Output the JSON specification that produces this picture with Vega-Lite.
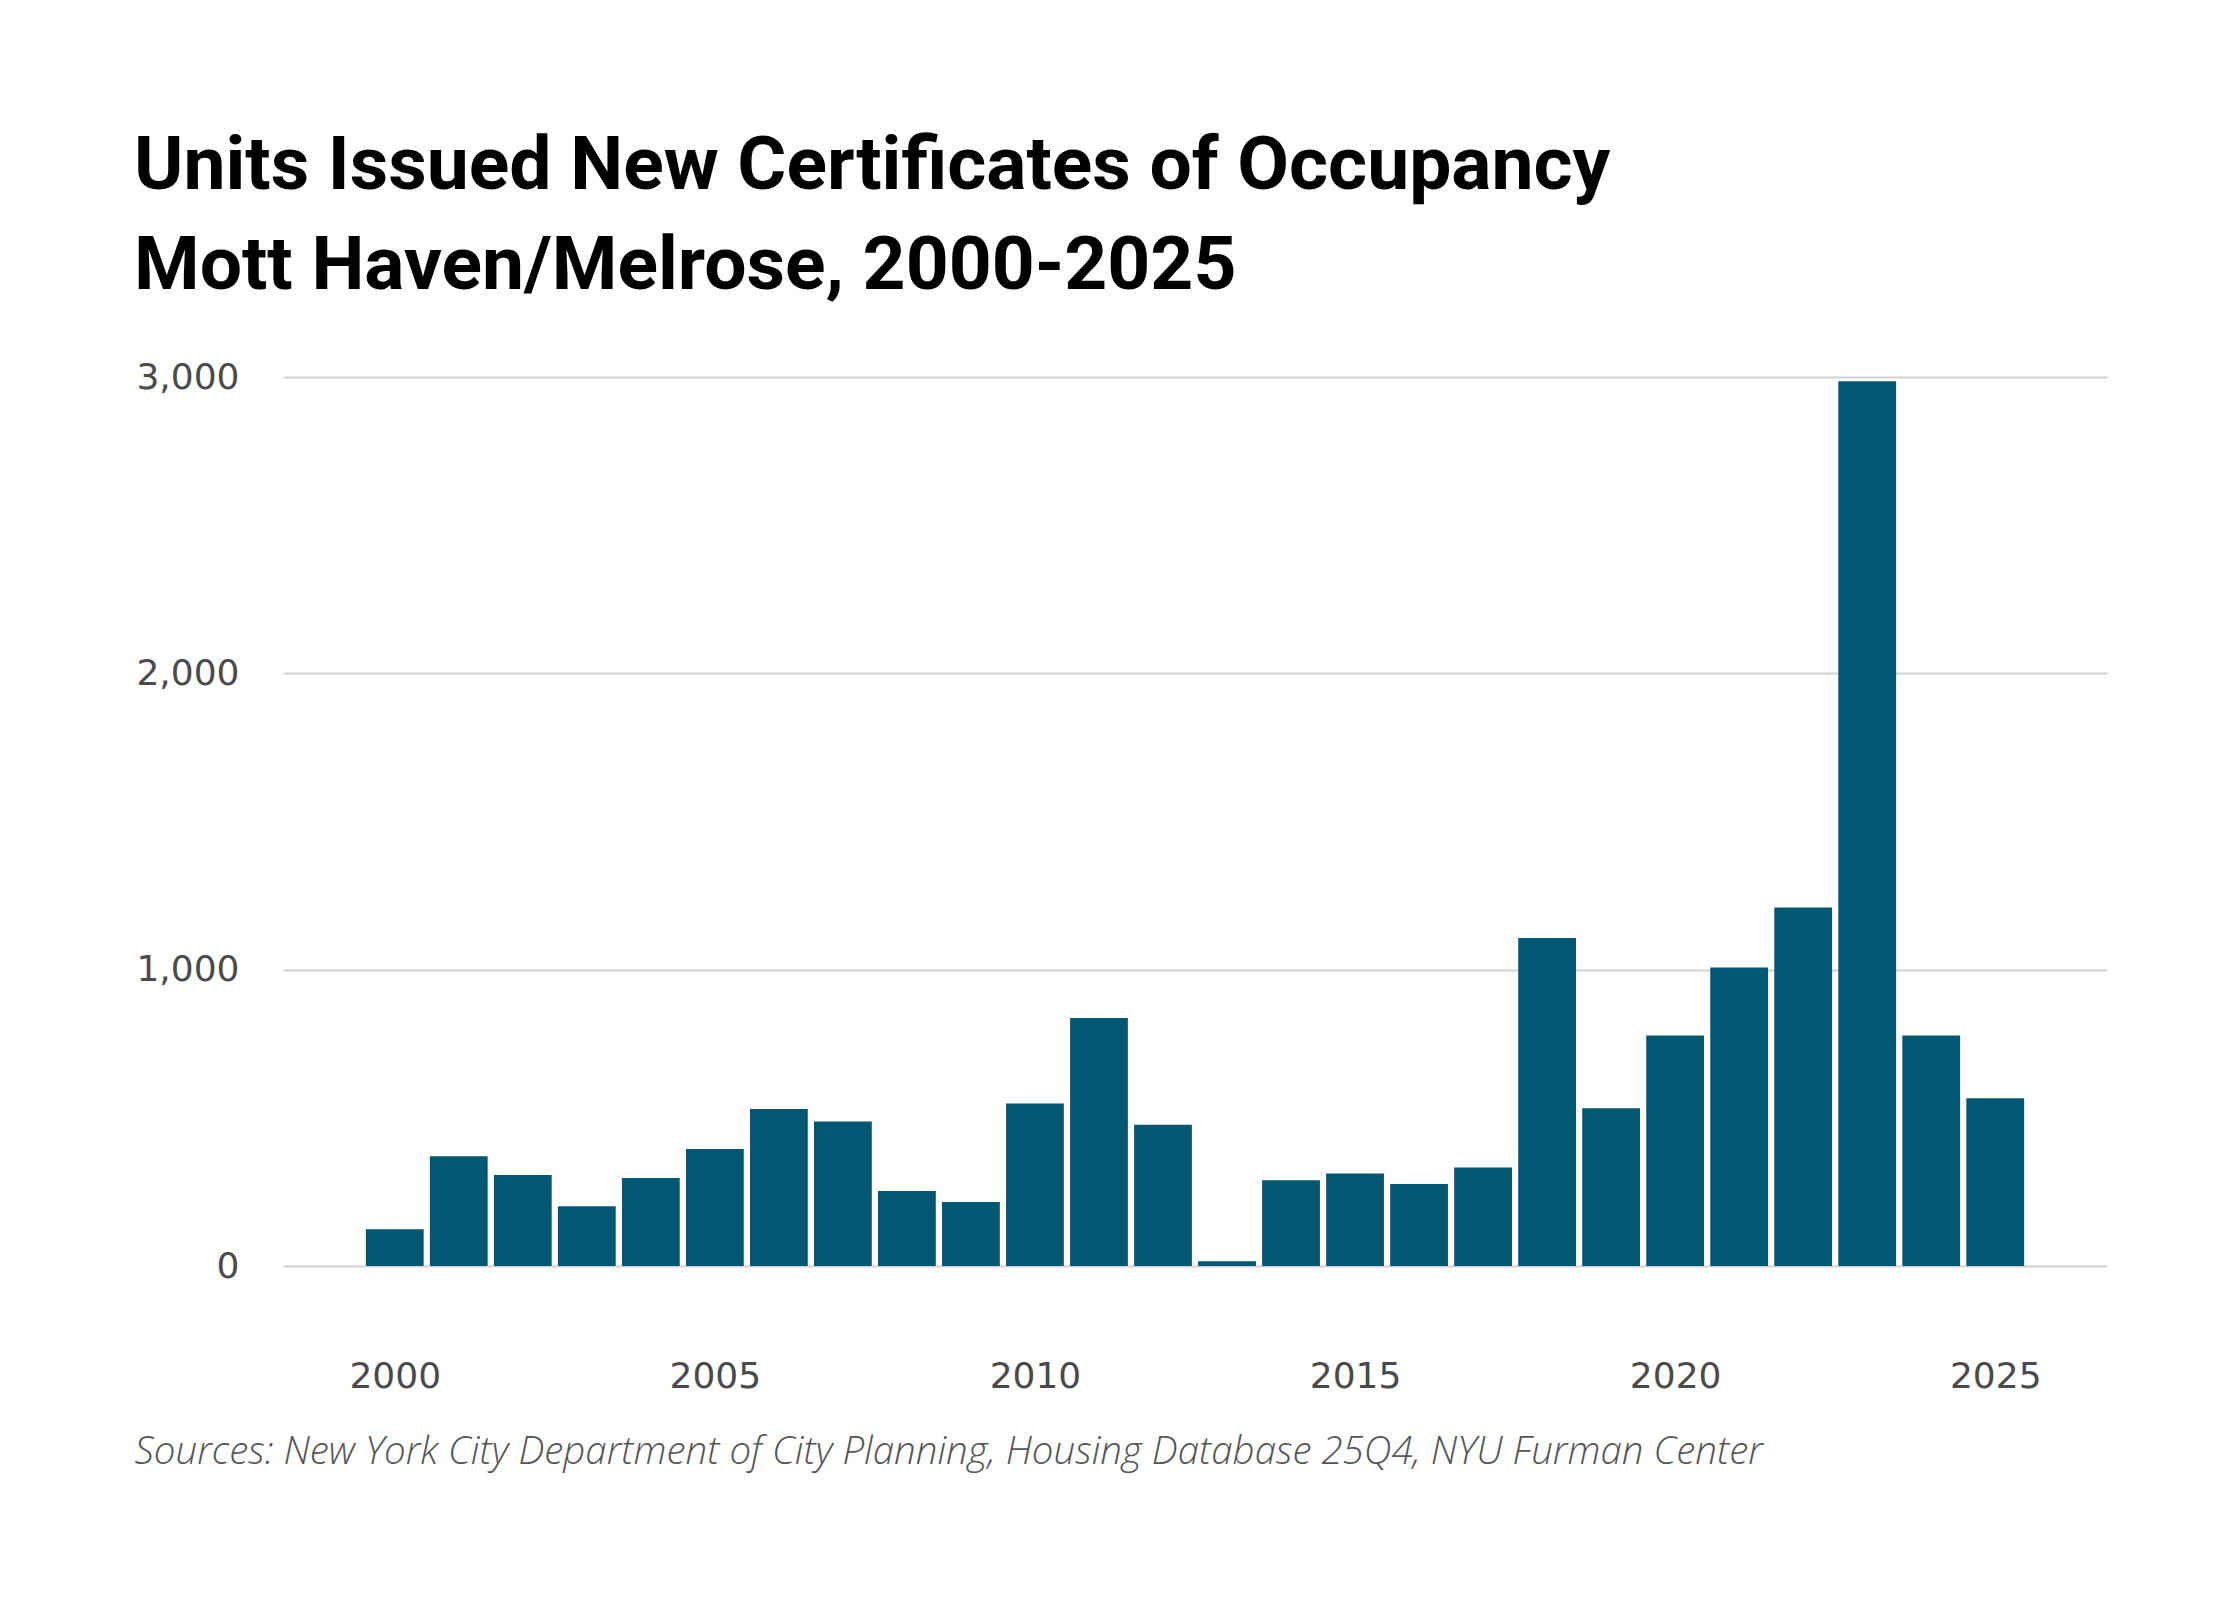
{
  "$schema": "https://vega.github.io/schema/vega-lite/v6.json",
  "width": 1824,
  "height": 889,
  "autosize": {"type": "none"},
  "padding": {"left": 283, "top": 377, "right": 133, "bottom": 334},
  "background": "white",
  "title": {
    "text": ["Units Issued New Certificates of Occupancy", "Mott Haven/Melrose, 2000-2025"],
    "anchor": "start",
    "frame": "group",
    "dx": -149,
    "font": "Roboto",
    "fontWeight": "bold",
    "fontSize": 75,
    "lineHeight": 100,
    "color": "#000000",
    "offset": 54
  },
  "data": {
    "values": [
      {"year": 2000, "units": 124},
      {"year": 2001, "units": 370},
      {"year": 2002, "units": 307},
      {"year": 2003, "units": 202},
      {"year": 2004, "units": 297},
      {"year": 2005, "units": 395},
      {"year": 2006, "units": 530},
      {"year": 2007, "units": 488},
      {"year": 2008, "units": 253},
      {"year": 2009, "units": 216},
      {"year": 2010, "units": 548},
      {"year": 2011, "units": 837},
      {"year": 2012, "units": 477},
      {"year": 2013, "units": 16},
      {"year": 2014, "units": 289},
      {"year": 2015, "units": 312},
      {"year": 2016, "units": 277},
      {"year": 2017, "units": 332},
      {"year": 2018, "units": 1107},
      {"year": 2019, "units": 532},
      {"year": 2020, "units": 778},
      {"year": 2021, "units": 1007},
      {"year": 2022, "units": 1210},
      {"year": 2023, "units": 2986},
      {"year": 2024, "units": 778},
      {"year": 2025, "units": 566}
    ]
  },
  "mark": {"type": "bar", "color": "#025872", "width": 57.8},
  "encoding": {
    "x": {
      "field": "year",
      "type": "quantitative",
      "scale": {"domain": [1998.3325, 2026.6675], "nice": false, "zero": false},
      "axis": {
        "values": [2000, 2005, 2010, 2015, 2020, 2025],
        "format": "d",
        "labelAngle": 0,
        "labelFont": "DejaVu Sans",
        "labelFontSize": 36,
        "labelColor": "#4a4a4a",
        "labelPadding": 93,
        "labelFlush": false,
        "ticks": false,
        "domain": false,
        "grid": false,
        "title": "Sources: New York City Department of City Planning, Housing Database 25Q4, NYU Furman Center",
        "titleFont": "Open Sans",
        "titleFontStyle": "italic",
        "titleFontWeight": 300,
        "titleFontSize": 38.5,
        "titleColor": "#555555",
        "titleAnchor": "start",
        "titleAlign": "left",
        "titleBaseline": "alphabetic",
        "titleX": -149,
        "titleY": 197
      }
    },
    "y": {
      "field": "units",
      "type": "quantitative",
      "scale": {"domain": [0, 3000]},
      "axis": {
        "values": [0, 1000, 2000, 3000],
        "format": ",.0f",
        "labelFont": "DejaVu Sans",
        "labelFontSize": 36,
        "labelColor": "#4a4a4a",
        "labelPadding": 44,
        "ticks": false,
        "domain": false,
        "gridColor": "#d2d2d2",
        "gridWidth": 2,
        "title": null
      }
    }
  },
  "config": {"view": {"stroke": null}}
}
